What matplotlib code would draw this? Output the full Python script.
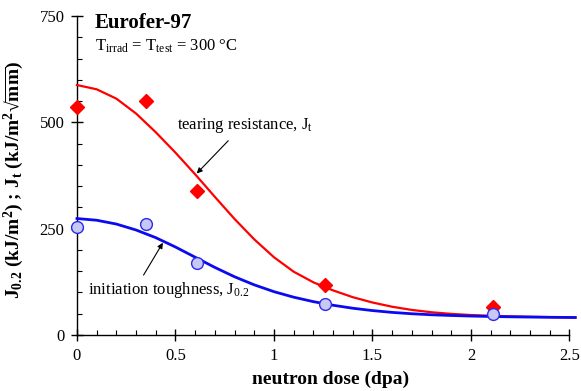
import matplotlib
matplotlib.use("Agg")
import matplotlib.pyplot as plt
from matplotlib.ticker import MultipleLocator

plt.rcParams['font.family'] = ['Liberation Serif', 'DejaVu Serif']
plt.rcParams['mathtext.fontset'] = 'custom'
plt.rcParams['mathtext.rm'] = 'Liberation Serif'
plt.rcParams['mathtext.it'] = 'Liberation Serif:italic'
plt.rcParams['mathtext.bf'] = 'Liberation Serif:bold'

# measured data
dose_pts = [0.0, 0.35, 0.61, 1.26, 2.11]
jt_pts = [536, 551, 338, 117, 65]
j02_pts = [254, 262, 170, 74, 49]

# fitted curves
curve_x = [0.0, 0.1, 0.2, 0.3, 0.4, 0.5, 0.6, 0.7, 0.8, 0.9, 1.0, 1.1, 1.2,
           1.3, 1.4, 1.5, 1.6, 1.7, 1.8, 1.9, 2.0, 2.1, 2.2, 2.3, 2.4, 2.5, 2.53]
jt_curve = [588, 578, 556, 521, 477, 429, 378, 325, 273, 225, 183, 149, 124,
            105, 89, 76.5, 66.5, 59, 53.5, 49.7, 47, 45.2, 43.9, 42.9, 42.1, 41.5, 41.3]
j02_curve = [274, 270, 261, 247, 229, 207, 183, 159, 137, 118, 102, 89, 78.5,
             70, 63, 57.5, 53.2, 50, 47.6, 45.9, 44.6, 43.6, 42.8, 42.2, 41.7, 41.3, 41.2]

xticks = [0, 0.5, 1, 1.5, 2, 2.5]
xticklabels = ['0', '0.5', '1', '1.5', '2', '2.5']
yticks = [0, 250, 500, 750]

fig = plt.figure(figsize=(5.81, 3.91), dpi=100)
ax = fig.add_axes([0.1325, 0.1432, 0.8475, 0.8154])

ax.plot(curve_x, jt_curve, color='#ff0000', lw=1.6, clip_on=False, zorder=3,
        solid_joinstyle='round')
ax.plot(curve_x, j02_curve, color='#0a0af0', lw=2.0, clip_on=False, zorder=3,
        solid_joinstyle='round')
ax.plot(dose_pts, jt_pts, linestyle='none', marker='D', ms=7.5, color='#ff0000',
        mec='#ff0000', clip_on=False, zorder=4)
ax.plot(dose_pts, j02_pts, linestyle='none', marker='o', ms=8.5, mfc='#c8c8f5',
        mec='#2a2af0', mew=1.0, clip_on=False, zorder=4)

ax.set_xlim(0, 2.5)
ax.set_ylim(0, 750)
for s in ['top', 'right']:
    ax.spines[s].set_visible(False)
for s in ['left', 'bottom']:
    ax.spines[s].set_linewidth(1.0)

ax.set_xticks(xticks)
ax.set_xticklabels(xticklabels)
ax.set_yticks(yticks)
ax.xaxis.set_minor_locator(MultipleLocator(0.1))
ax.yaxis.set_minor_locator(MultipleLocator(50))
ax.tick_params(which='major', direction='inout', length=8, width=1.0,
               labelsize=12, pad=5)
ax.tick_params(which='minor', direction='in', length=3.5, width=0.8)

ax.set_xlabel('neutron dose (dpa)', fontsize=14, fontweight='bold')
ax.xaxis.set_label_coords(0.516, -0.113)
ax.set_ylabel(r'J$_{\mathbf{0.2}}$ (kJ/m$^{\mathbf{2}}$) ; J$_{\mathbf{t}}$ (kJ/m$^{\mathbf{2}}$√$\overline{\mathbf{mm}}$)',
              fontsize=14, fontweight='bold')
ax.yaxis.set_label_coords(-0.104, 0.485)

ax.text(0.09, 722, 'Eurofer-97', fontsize=15, fontweight='bold', va='baseline', ha='left')
ax.text(0.09, 670, r'T$_{\mathrm{irrad}}$ = T$_{\mathrm{test}}$ = 300 °C',
        fontsize=12, va='baseline', ha='left')

ax.text(0.508, 484, r'tearing resistance, J$_{\mathrm{t}}$', fontsize=12,
        ha='left', va='baseline')
ax.annotate('', xy=(0.608, 380), xytext=(0.768, 457),
            arrowprops=dict(arrowstyle='-|>', color='black', lw=0.8,
                            shrinkA=0, shrinkB=0, mutation_scale=8))
ax.text(0.054, 96, r'initiation toughness, J$_{\mathrm{0.2}}$', fontsize=12,
        ha='left', va='baseline')
ax.annotate('', xy=(0.436, 217), xytext=(0.338, 141),
            arrowprops=dict(arrowstyle='-|>', color='black', lw=0.8,
                            shrinkA=0, shrinkB=0, mutation_scale=8))

fig.savefig('out.png', dpi=100)
